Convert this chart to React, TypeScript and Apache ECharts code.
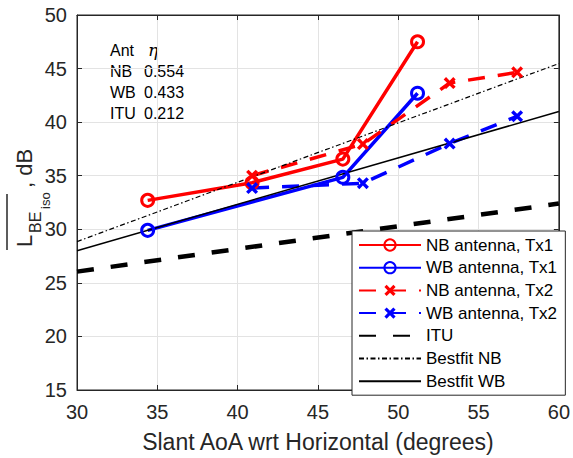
import React, { useEffect, useRef } from 'react';
import * as echarts from 'echarts';

// ---- data ----
const nbTx1X = [34.4, 40.9, 46.55, 51.2];
const nbTx1Y = [32.7, 34.35, 36.55, 47.5];
const wbTx1X = [34.4, 46.55, 51.2];
const wbTx1Y = [29.9, 34.85, 42.7];
const nbTx2X = [40.9, 47.8, 53.2, 57.4];
const nbTx2Y = [35.0, 37.95, 43.65, 44.65];
const wbTx2X = [40.9, 47.8, 53.2, 57.4];
const wbTx2Y = [33.85, 34.3, 38.0, 40.55];
const ituX = [30, 60];
const ituY = [26.05, 32.4];
const fitNBX = [30, 60];
const fitNBY = [28.85, 45.47];
const fitWBX = [30, 60];
const fitWBY = [28.0, 40.99];

const seriesNames = [
  'NB antenna, Tx1',
  'WB antenna, Tx1',
  'NB antenna, Tx2',
  'WB antenna, Tx2',
  'ITU',
  'Bestfit NB',
  'Bestfit WB',
];
const annotNames = ['Ant', 'NB', 'WB', 'ITU'];
const annotValues = ['η', '0.554', '0.433', '0.212'];

const xLabel = 'Slant AoA wrt Horizontal (degrees)';

const zip = (xs: number[], ys: number[]) => xs.map((x, i) => [x, ys[i]]);

export default function App() {
  const ref = useRef<HTMLDivElement>(null);
  useEffect(() => {
    const chart = echarts.init(ref.current!, null, { renderer: 'svg' });
    const font = '"Liberation Sans", Arial, Helvetica, sans-serif';
    const axisColor = '#262626';
    const red = '#ff0000';
    const blue = '#0000ff';
    const clear = 'rgba(255,255,255,0)';
    const xMarker =
      'path://M2,0 L5,3 L8,0 L10,2 L7,5 L10,8 L8,10 L5,7 L2,10 L0,8 L3,5 L0,2 Z';

    const circleSeries = (name: string, xs: number[], ys: number[], color: string) => ({
      name,
      type: 'line',
      data: zip(xs, ys),
      symbol: 'circle',
      symbolSize: 12,
      lineStyle: { color, width: 3.5 },
      itemStyle: { color: clear, borderColor: color, borderWidth: 3 },
    });
    const xSeries = (name: string, xs: number[], ys: number[], color: string) => ({
      name,
      type: 'line',
      data: zip(xs, ys),
      symbol: xMarker,
      symbolSize: 12,
      lineStyle: { color, width: 3.5, type: [17, 13] },
      itemStyle: { color },
    });
    const plainSeries = (name: string, xs: number[], ys: number[], lineStyle: any) => ({
      name,
      type: 'line',
      data: zip(xs, ys),
      symbol: 'circle',
      showSymbol: false,
      symbolSize: 0,
      lineStyle,
      itemStyle: { color: clear, borderWidth: 0 },
    });

    const annotGraphics: any[] = [];
    annotNames.forEach((n, i) => {
      const y = 50 + i * 21.3;
      annotGraphics.push({
        type: 'text',
        x: 110,
        y,
        style: { text: n, font: `16px ${font}`, fill: '#000', verticalAlign: 'middle' },
      });
      annotGraphics.push({
        type: 'text',
        x: i === 0 ? 148 : 144,
        y,
        style: {
          text: annotValues[i],
          font: i === 0 ? 'italic 17px "DejaVu Serif", "Liberation Serif", serif' : `16px ${font}`,
          fill: '#000',
          verticalAlign: 'middle',
        },
      });
    });

    const option: any = {
      animation: false,
      backgroundColor: '#fff',
      grid: {
        left: 77,
        right: 14,
        top: 15,
        bottom: 68,
        show: true,
        borderColor: axisColor,
        borderWidth: 1,
        backgroundColor: 'transparent',
      },
      xAxis: [
        {
          type: 'value',
          min: 30,
          max: 60,
          interval: 5,
          name: xLabel,
          nameLocation: 'middle',
          nameGap: 40,
          nameTextStyle: { fontFamily: font, fontSize: 23, color: axisColor },
          axisLine: { show: true, lineStyle: { color: axisColor } },
          axisTick: { show: true, inside: true, length: 5, lineStyle: { color: axisColor } },
          axisLabel: { fontFamily: font, fontSize: 20, color: axisColor, margin: 12 },
          splitLine: { show: true, lineStyle: { color: '#e3e3e3', width: 1 } },
        },
        {
          type: 'value',
          position: 'top',
          min: 30,
          max: 60,
          interval: 5,
          axisLine: { show: true, lineStyle: { color: axisColor } },
          axisTick: { show: true, inside: true, length: 5, lineStyle: { color: axisColor } },
          axisLabel: { show: false },
          splitLine: { show: false },
        },
      ],
      yAxis: [
        {
          type: 'value',
          min: 15,
          max: 50,
          interval: 5,
          axisLine: { show: true, lineStyle: { color: axisColor } },
          axisTick: { show: true, inside: true, length: 5, lineStyle: { color: axisColor } },
          axisLabel: { fontFamily: font, fontSize: 20, color: axisColor, margin: 10 },
          splitLine: { show: true, lineStyle: { color: '#e3e3e3', width: 1 } },
        },
        {
          type: 'value',
          position: 'right',
          min: 15,
          max: 50,
          interval: 5,
          axisLine: { show: true, lineStyle: { color: axisColor } },
          axisTick: { show: true, inside: true, length: 5, lineStyle: { color: axisColor } },
          axisLabel: { show: false },
          splitLine: { show: false },
        },
      ],
      legend: {
        orient: 'vertical',
        left: 352,
        top: 231,
        backgroundColor: '#fff',
        borderColor: '#262626',
        borderWidth: 1,
        borderRadius: 0,
        padding: [5, 8, 5, 6],
        itemGap: 4.7,
        itemWidth: 62,
        itemHeight: 14,
        textStyle: { fontFamily: font, fontSize: 17, color: '#000', lineHeight: 18 },
        data: seriesNames,
      },
      graphic: [
        ...annotGraphics,
        {
          type: 'group',
          x: 0,
          y: 250,
          rotation: Math.PI / 2,
          children: [
            { type: 'text', x: 3, y: 24, style: { text: 'L', font: `22px ${font}`, fill: axisColor, verticalAlign: 'middle' } },
            { type: 'text', x: 17, y: 35, style: { text: 'BE', font: `16px ${font}`, fill: axisColor, verticalAlign: 'middle' } },
            { type: 'text', x: 41, y: 45, style: { text: 'iso', font: `13px ${font}`, fill: axisColor, verticalAlign: 'middle' } },
            { type: 'text', x: 62, y: 24, style: { text: ', dB', font: `22px ${font}`, fill: axisColor, verticalAlign: 'middle' } },
            { type: 'line', shape: { x1: 0, y1: 7, x2: 56, y2: 7 }, style: { stroke: axisColor, lineWidth: 1.5 } },
          ],
        },
      ],
      series: [
        circleSeries(seriesNames[0], nbTx1X, nbTx1Y, red),
        circleSeries(seriesNames[1], wbTx1X, wbTx1Y, blue),
        xSeries(seriesNames[2], nbTx2X, nbTx2Y, red),
        xSeries(seriesNames[3], wbTx2X, wbTx2Y, blue),
        plainSeries(seriesNames[4], ituX, ituY, { color: '#000', width: 4.5, type: [17, 17] }),
        plainSeries(seriesNames[5], fitNBX, fitNBY, { color: '#000', width: 1.2, type: [5, 2.5, 1.5, 2.5] }),
        plainSeries(seriesNames[6], fitWBX, fitWBY, { color: '#000', width: 1.5 }),
      ],
    };
    chart.setOption(option);
    return () => chart.dispose();
  }, []);
  return (
    <div
      ref={ref}
      style={{ position: 'fixed', left: 0, top: 0, width: 573, height: 458, background: '#fff' }}
    />
  );
}
